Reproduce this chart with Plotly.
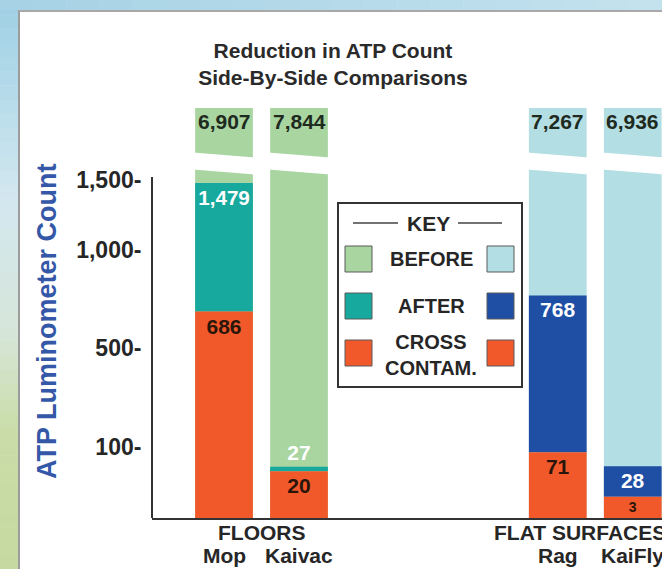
import numpy as np
import plotly.graph_objects as go

# ---------------- data ----------------
CATEGORIES = ["Mop", "Kaivac", "Rag", "KaiFly"]
GROUPS = ["FLOORS", "FLOORS", "FLAT SURFACES", "FLAT SURFACES"]
BEFORE = [6907, 7844, 7267, 6936]
AFTER = [1479, 27, 768, 28]
CROSS_CONTAM = [686, 20, 71, 3]
Y_TICKS = [100, 500, 1000, 1500]
KEY_ITEMS = ["BEFORE", "AFTER", "CROSS<br>CONTAM."]
TITLE_LINES = ["Reduction in ATP Count", "Side-By-Side Comparisons"]
Y_TITLE = "ATP Luminometer Count"

# ---------------- styles ----------------
FONT = "Liberation Sans, Arial, sans-serif"
DARK = "#262626"
GROUP_COLORS = {
    "FLOORS": ["#a9d5a1", "#17a99d", "#f2592a"],
    "FLAT SURFACES": ["#b3dee3", "#1e4fa5", "#f2592a"],
}
GROUP_OFFSET = {"FLOORS": 0.0, "FLAT SURFACES": 4.45}
GROUP_LABEL_SHIFT = {"FLOORS": 0, "FLAT SURFACES": -15}
BAR_W = 0.77

W, H = 662, 569
ML, MT, MB = 152, 108, 51
PH = H - MT - MB          # plot height in px
PW = W - ML               # plot width in px
Y_RANGE = [0, PH]
X_RANGE = [-0.96, 5.84]


def disp(v):
    """Non-uniform display scale of the reference's hand-drawn axis."""
    v = np.asarray(v, dtype=float)
    low = 71 * np.log10(1 + v) / np.log10(101)
    high = np.interp(v, [100, 500, 1000, 1500, 10000], [71, 170, 268, 338, 1600])
    return np.where(v < 100, low, high)


def px_x(px):
    return (px - ML) / PW


def px_y(py):
    return (H - MB - py) / PH


# x positions
xs = []
counter = {}
for g in GROUPS:
    i = counter.get(g, 0)
    xs.append(GROUP_OFFSET[g] + i)
    counter[g] = i + 1

before_cols = [GROUP_COLORS[g][0] for g in GROUPS]
after_cols = [GROUP_COLORS[g][1] for g in GROUPS]
cross_cols = [GROUP_COLORS[g][2] for g in GROUPS]

y_before = disp(BEFORE)
y_after = disp(AFTER)
y_cross = disp(CROSS_CONTAM)

fig = go.Figure()
fig.add_bar(x=xs, y=y_before, width=BAR_W, marker=dict(color=before_cols, line=dict(width=0)),
            hoverinfo="skip", showlegend=False)
fig.add_bar(x=xs, base=y_cross, y=y_after - y_cross, width=BAR_W,
            marker=dict(color=after_cols, line=dict(width=0)),
            text=[f"{v:,}" for v in AFTER], textposition="auto", insidetextanchor="end",
            textangle=0, cliponaxis=False,
            insidetextfont=dict(family=FONT, size=21, color="#ffffff", weight="bold"),
            outsidetextfont=dict(family=FONT, size=21, color="#ffffff", weight="bold"),
            hoverinfo="skip", showlegend=False)
fig.add_bar(x=xs, y=y_cross, width=BAR_W, marker=dict(color=cross_cols, line=dict(width=0)),
            text=[f"{v:,}" for v in CROSS_CONTAM], textposition="inside", insidetextanchor="end",
            textangle=0,
            insidetextfont=dict(family=FONT, size=21, color="#2a150b", weight="bold"),
            hoverinfo="skip", showlegend=False)

shapes = []
annotations = []


def lerp(c1, c2, t):
    a = [int(c1[i:i + 2], 16) for i in (1, 3, 5)]
    b = [int(c2[i:i + 2], 16) for i in (1, 3, 5)]
    return "#%02x%02x%02x" % tuple(int(round(a[k] + (b[k] - a[k]) * t)) for k in range(3))


# background frame (gradient strips)
stops = [(0, "#9fcfe4"), (90, "#b4dbea"), (200, "#d3e7ef"), (330, "#d6e6da"), (430, "#cadda9"), (569, "#c6d9a0")]
n = 40
for k in range(n):
    y0 = k * H / n
    y1 = (k + 1) * H / n
    yc = (y0 + y1) / 2
    col = stops[-1][1]
    for j in range(len(stops) - 1):
        if stops[j][0] <= yc <= stops[j + 1][0]:
            t = (yc - stops[j][0]) / (stops[j + 1][0] - stops[j][0])
            col = lerp(stops[j][1], stops[j + 1][1], t)
            break
    shapes.append(dict(type="rect", xref="paper", yref="paper", layer="below",
                       x0=px_x(0), x1=px_x(19), y0=px_y(y1 + 0.5), y1=px_y(y0),
                       fillcolor=col, line=dict(width=0)))
m = 20
for k in range(m):
    x0 = k * W / m
    x1 = (k + 1) * W / m
    col = lerp("#a6d2e5", "#c4e2ee", (x0 + x1) / 2 / W)
    shapes.append(dict(type="rect", xref="paper", yref="paper", layer="below",
                       x0=px_x(x0), x1=px_x(x1 + 0.5), y0=px_y(10), y1=px_y(0),
                       fillcolor=col, line=dict(width=0)))
shapes.append(dict(type="line", xref="paper", yref="paper", layer="below",
                   x0=px_x(19), x1=px_x(19), y0=px_y(H), y1=px_y(10),
                   line=dict(color="#9c9c9c", width=2)))
shapes.append(dict(type="line", xref="paper", yref="paper", layer="below",
                   x0=px_x(19), x1=px_x(W), y0=px_y(11), y1=px_y(11),
                   line=dict(color="#a8a8a8", width=2)))

# axis break bands on each bar
BREAK_LOW, BREAK_GAP, SLANT = 346, 17, 4.5
for x in xs:
    xa, xb = x - BAR_W / 2 - 0.03, x + BAR_W / 2 + 0.03
    la = BREAK_LOW + SLANT * (x - xa) / BAR_W
    lb = BREAK_LOW - SLANT * (xb - x) / BAR_W
    shapes.append(dict(type="path", xref="x", yref="y", layer="above",
                       path=f"M {xa},{la} L {xb},{lb} L {xb},{lb + BREAK_GAP} L {xa},{la + BREAK_GAP} Z",
                       fillcolor="#ffffff", line=dict(width=0)))

# y axis line (stops at the top tick)
shapes.append(dict(type="line", xref="paper", yref="y", x0=0, x1=0, y0=0,
                   y1=float(disp(max(Y_TICKS))) + 3, line=dict(color="#333333", width=2)))

# before-value labels on top blocks
for x, v in zip(xs, BEFORE):
    annotations.append(dict(x=x, y=Y_RANGE[1], xref="x", yref="y", xanchor="center", yanchor="top",
                            text=f"<b>{v:,}</b>", showarrow=False,
                            font=dict(family=FONT, size=21, color="#1f2a1f")))

# category and group labels
for x, c in zip(xs, CATEGORIES):
    annotations.append(dict(x=x, y=0, xref="x", yref="paper", xanchor="center", yanchor="middle",
                            yshift=-37, text=f"<b>{c}</b>", showarrow=False,
                            font=dict(family=FONT, size=21, color=DARK)))
for g in dict.fromkeys(GROUPS):
    gx = [x for x, gg in zip(xs, GROUPS) if gg == g]
    annotations.append(dict(x=float(np.mean(gx)), y=0, xref="x", yref="paper", xanchor="center",
                            yanchor="middle", yshift=-14, xshift=GROUP_LABEL_SHIFT[g],
                            text=f"<b>{g}</b>", showarrow=False,
                            font=dict(family=FONT, size=21, color=DARK)))

# y title
annotations.append(dict(x=px_x(47), y=px_y(321), xref="paper", yref="paper", textangle=-90,
                        xanchor="center", yanchor="middle",
                        text=f"<b>{Y_TITLE}</b>", showarrow=False,
                        font=dict(family=FONT, size=27, color="#3557a8")))

# key box
shapes.append(dict(type="rect", xref="paper", yref="paper", layer="above",
                   x0=px_x(338), x1=px_x(522), y0=px_y(387), y1=px_y(203),
                   fillcolor="#ffffff", line=dict(color="#333333", width=2)))
annotations.append(dict(x=px_x(428), y=px_y(223), xref="paper", yref="paper",
                        xanchor="center", yanchor="middle",
                        text="<b>KEY</b>", showarrow=False,
                        font=dict(family=FONT, size=21, color=DARK)))
for xa, xb in [(353, 398), (458, 502)]:
    shapes.append(dict(type="line", xref="paper", yref="paper", layer="above",
                       x0=px_x(xa), x1=px_x(xb), y0=px_y(223), y1=px_y(223),
                       line=dict(color="#444444", width=1.5)))
left_cols = GROUP_COLORS["FLOORS"]
right_cols = GROUP_COLORS["FLAT SURFACES"]
for i, item in enumerate(KEY_ITEMS):
    yc = 259 + 47 * i
    for (xa, xb), col in [((345, 372), left_cols[i]), ((487, 514), right_cols[i])]:
        shapes.append(dict(type="rect", xref="paper", yref="paper", layer="above",
                           x0=px_x(xa), x1=px_x(xb), y0=px_y(yc + 13), y1=px_y(yc - 13),
                           fillcolor=col, line=dict(color="#5a5a5a", width=1)))
    annotations.append(dict(x=px_x(431), y=px_y(yc + 2 if "<br>" in item else yc),
                            xref="paper", yref="paper", xanchor="center", yanchor="middle",
                            text=f"<b>{item}</b>", showarrow=False,
                            font=dict(family=FONT, size=20, color=DARK)))

fig.update_layout(
    width=W, height=H, autosize=False,
    margin=dict(l=ML, r=0, t=MT, b=MB, pad=0),
    paper_bgcolor="#ffffff", plot_bgcolor="rgba(0,0,0,0)",
    barmode="overlay",
    showlegend=False,
    title=dict(text="<b>" + "<br>".join(TITLE_LINES) + "</b>", x=0.503, xref="container",
               y=1 - 58 / H, yref="container", xanchor="center", yanchor="middle",
               font=dict(family=FONT, size=21, color="#2a2a2a")),
    xaxis=dict(range=X_RANGE, showticklabels=False, ticks="", showgrid=False, zeroline=False,
               showline=True, linecolor="#333333", linewidth=2, fixedrange=True),
    yaxis=dict(range=Y_RANGE, tickvals=[float(v) for v in disp(Y_TICKS)],
               ticktext=[f"{v:,}-" for v in Y_TICKS], ticks="outside", ticklen=5, tickwidth=2,
               tickcolor="rgba(0,0,0,0)", showgrid=False, zeroline=False, showline=False,
               tickfont=dict(family=FONT, size=23, color=DARK, weight="bold"), fixedrange=True),
    shapes=shapes,
    annotations=annotations,
)

fig.write_html("out.html", config={"displayModeBar": False},
               post_script="document.body.style.margin='0';document.body.style.overflow='hidden';")
